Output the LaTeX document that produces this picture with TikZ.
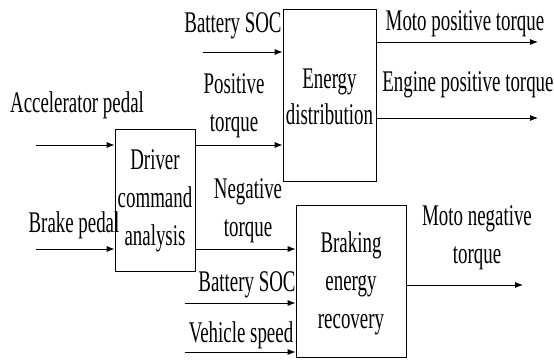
\documentclass[tikz,border=0pt]{standalone}
\usepackage{fontspec}
\setmainfont[FakeStretch=0.63]{Liberation Serif}
\usetikzlibrary{arrows.meta}
\begin{document}
\begin{tikzpicture}[x=1pt,y=-1pt,
  every node/.style={font=\fontsize{30}{38}\selectfont, inner sep=0pt},
  box/.style={draw, line width=0.8pt, align=center},
  lbl/.style={align=center},
  sig/.style={line width=0.8pt, -{Latex[length=8pt,width=6pt]}}]
\useasboundingbox (0,0) rectangle (554,361);
% boxes
\node[box, minimum width=80pt, minimum height=142pt] (drv) at (155,200) {};
\node[lbl] (drvt) at (155,201) {Driver\\command\\analysis};
\node[box, minimum width=93pt, minimum height=172pt] (ed) at (329.5,95) {};
\node[lbl, font=\fontsize{30}{36}\selectfont] (edt) at (329.5,97) {Energy\\distribution};
\node[box, minimum width=110pt, minimum height=152pt] (br) at (351,281) {};
\node[lbl] (brt) at (351,283) {Braking\\energy\\recovery};
% free ends
\coordinate (accS) at (36,145);
\coordinate (brkS) at (36,249);
\coordinate (socT) at (203,52);
\coordinate (mpE) at (538,42);
\coordinate (epE) at (538,118);
\coordinate (socB) at (185,303);
\coordinate (spdS) at (185,352);
\coordinate (mnE) at (523,285);
% connectors
\draw[sig] (accS) -- (accS -| drv.west);
\draw[sig] (brkS) -- (brkS -| drv.west);
\draw[sig] (socT) -- (socT -| ed.west);
\draw[sig] (accS -| drv.east) -- (accS -| ed.west);
\draw[sig] (mpE -| ed.east) -- (mpE);
\draw[sig] (epE -| ed.east) -- (epE);
\draw[sig] (brkS -| drv.east) -- (brkS -| br.west);
\draw[sig] (socB) -- (socB -| br.west);
\draw[sig] (spdS) -- (spdS -| br.west);
\draw[sig] (mnE -| br.east) -- (mnE);
% labels
\node[anchor=base] (l1) at (233,33) {Battery SOC};
\node[anchor=base] (l2) at (77,112) {Accelerator pedal};
\node[lbl] (l3) at (234,106) {Positive\\torque};
\node[anchor=base] (l4) at (465,31) {Moto positive torque};
\node[anchor=base] (l5) at (468,91) {Engine positive torque};
\node[anchor=base] (l6) at (74,232) {Brake pedal};
\node[lbl] (l7) at (248,211) {Negative\\torque};
\node[anchor=base] (l8) at (247,291) {Battery SOC};
\node[anchor=base] (l9) at (241,342) {Vehicle speed};
\node[lbl] (l10) at (477,238) {Moto negative\\torque};
\end{tikzpicture}
\end{document}
